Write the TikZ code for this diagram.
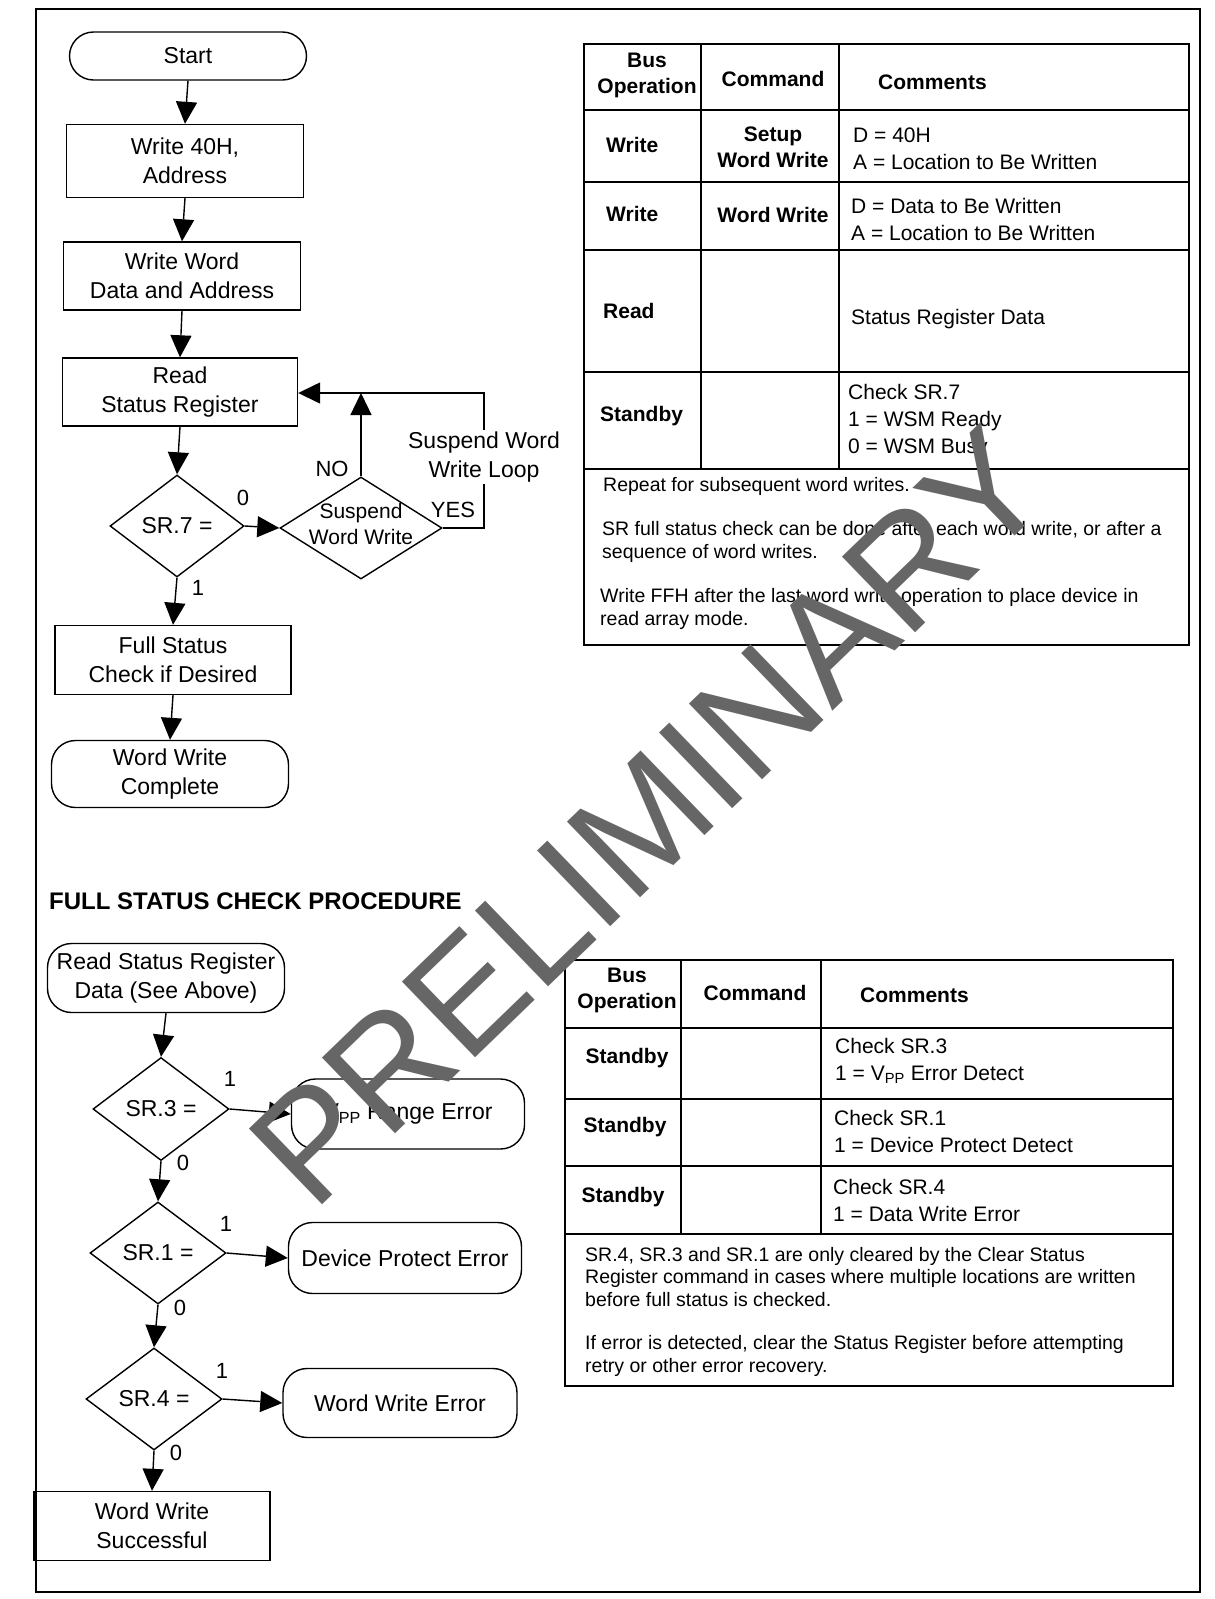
\documentclass[tikz,border=0pt]{standalone}
\usepackage{fontspec}
\setmainfont{Liberation Sans}
\usetikzlibrary{shapes.geometric,arrows.meta}
\newcommand\flowfont{\fontsize{23}{28.5}\selectfont}
\newcommand\susfont{\fontsize{21}{26}\selectfont}
\newcommand\tabfont{\fontsize{21}{27}\selectfont}
\newcommand\tabbfont{\fontsize{21}{26}\selectfont\bfseries}
\newcommand\notefont{\fontsize{19.5}{22.5}\selectfont}
\newcommand\lblfont{\fontsize{22}{26}\selectfont}
\tikzset{
  proc/.style={draw, line width=1.4pt, align=center, font=\flowfont, inner sep=0pt},
  term/.style={proc, rounded corners=24pt},
  dia/.style={draw, diamond, line width=1.4pt, font=\flowfont, inner sep=0pt},
  arr/.style={-{Triangle[length=22pt,width=21pt]}, line width=1.4pt},
  lbl/.style={font=\lblfont, inner sep=0pt},
  tabb/.style={font=\tabbfont, align=center, inner sep=0pt},
  tabn/.style={font=\tabfont, align=left, inner sep=0pt, anchor=west},
  note/.style={font=\notefont, align=left, inner sep=0pt, anchor=west},
  tline/.style={line width=1.5pt},
}
\begin{document}
\begin{tikzpicture}[x=1pt,y=-1pt]
\useasboundingbox (0,0) rectangle (1215,1599);
\fill[white] (0,0) rectangle (1215,1599);
% outer frame
\draw[line width=1.8pt] (36,9) rectangle (1200,1592);

% ---------- top flowchart ----------
\node[term, minimum width=237pt, minimum height=48pt] (start) at (188,56) {Start};
\node[proc, minimum width=237pt, minimum height=73pt] (w40) at (185,161) {Write 40H,\\Address};
\node[proc, minimum width=237pt, minimum height=68pt] (ww) at (182,276) {Write Word\\Data and Address};
\node[proc, minimum width=235pt, minimum height=68pt] (rsr) at (180,392) {Read\\Status Register};
\node[dia, minimum width=134pt, minimum height=102pt] (sr7) at (177,526) {SR.7 =};
\node[dia, minimum width=162pt, minimum height=102pt,
  label={[font=\susfont, align=center, inner sep=0pt, yshift=4pt]center:{Suspend\\Word Write}}] (sus) at (361,528) {};
\node[proc, minimum width=236pt, minimum height=69pt] (full) at (173,660) {Full Status\\Check if Desired};
\node[term, minimum width=237pt, minimum height=67pt] (done) at (170,774) {Word Write\\Complete};

\coordinate (lpR) at (484,393);
\draw[arr] (start.south) -- (w40.north);
\draw[arr] (w40.south) -- (ww.north);
\draw[arr] (ww.south) -- (rsr.north);
\draw[arr] (rsr.south) -- (sr7.north);
\draw[arr] (sr7.east) -- (sus.west);
\draw[arr] (sr7.south) -- (full.north);
\draw[arr] (full.south) -- (done.north);
\draw[arr] (sus.east) -| (lpR) -- (rsr.east |- lpR);
\draw[arr] (sus.north) -- (sus.north |- lpR);
\node[font=\flowfont, align=center, fill=white, inner sep=2pt] (loopt) at (484,457) {Suspend Word\\Write Loop};

\node[lbl] (l0) at (243,498) {0};
\node[lbl] (lno) at (332,469) {NO};
\node[lbl] (lyes) at (453,510) {YES};
\node[lbl] (l1) at (198,588) {1};

% ---------- top table ----------
\draw[tline] (584,44) rectangle (1189,645);
\foreach \yy in {110,182,250,372,469} \draw[tline] (584,\yy) -- (1189,\yy);
\draw[tline] (701,44) -- (701,469);
\draw[tline] (839,44) -- (839,469);
\node[tabb] (h1) at (647,75) {Bus\\Operation};
\node[tabb] (h2) at (773,79) {Command};
\node[tabb, anchor=west] (h3) at (878,82) {Comments};
\node[tabb, anchor=west] (r1a) at (606,145) {Write};
\node[tabb] (r1b) at (773,147) {Setup\\Word Write};
\node[tabn] (r1c) at (853,149) {D = 40H\\A = Location to Be Written};
\node[tabb, anchor=west] (r2a) at (606,214) {Write};
\node[tabb] (r2b) at (773,215) {Word Write};
\node[tabn] (r2c) at (851,219) {D = Data to Be Written\\A = Location to Be Written};
\node[tabb, anchor=west] (r3a) at (603,311) {Read};
\node[tabn] (r3c) at (851,319) {Status Register Data};
\node[tabb, anchor=west] (r4a) at (600,416) {Standby};
\node[tabn] (r4c) at (848,421) {Check SR.7\\1 = WSM Ready\\0 = WSM Busy};
\node[note] (n1) at (603,486) {Repeat for subsequent word writes.};
\node[note] (n2) at (602,542) {SR full status check can be done after each word write, or after a\\sequence of word writes.};
\node[note] (n3) at (600,609) {Write FFH after the last word write operation to place device in\\read array mode.};

% ---------- bottom flowchart ----------
\node[font=\fontsize{24}{28}\selectfont\bfseries, anchor=west, inner sep=0pt] (title) at (49,901) {FULL STATUS CHECK PROCEDURE};
\node[term, minimum width=237pt, minimum height=69pt] (rsd) at (166,978) {Read Status Register\\Data (See Above)};
\node[dia, minimum width=136pt, minimum height=103pt] (sr3) at (161,1109) {SR.3 =};
\node[term, minimum width=233pt, minimum height=70pt] (vpp) at (408,1114) {V\textsubscript{PP} Range Error};
\node[dia, minimum width=136pt, minimum height=102pt] (sr1) at (158,1253) {SR.1 =};
\node[term, minimum width=233pt, minimum height=71pt] (dpe) at (405,1258) {Device Protect Error};
\node[dia, minimum width=136pt, minimum height=102pt] (sr4) at (154,1399) {SR.4 =};
\node[term, minimum width=234pt, minimum height=69pt] (wwe) at (400,1403) {Word Write Error};
\node[proc, minimum width=236pt, minimum height=69pt] (wws) at (152,1526) {Word Write\\Successful};

\draw[arr] (rsd.south) -- (sr3.north);
\draw[arr] (sr3.east) -- (vpp.west);
\draw[arr] (sr3.south) -- (sr1.north);
\draw[arr] (sr1.east) -- (dpe.west);
\draw[arr] (sr1.south) -- (sr4.north);
\draw[arr] (sr4.east) -- (wwe.west);
\draw[arr] (sr4.south) -- (wws.north);

\node[lbl] (a1) at (230,1079) {1};
\node[lbl] (a0) at (183,1163) {0};
\node[lbl] (b1) at (226,1224) {1};
\node[lbl] (b0) at (180,1308) {0};
\node[lbl] (c1) at (222,1371) {1};
\node[lbl] (c0) at (176,1453) {0};

% ---------- bottom table ----------
\draw[tline] (565,960) rectangle (1173,1386);
\foreach \yy in {1028,1099,1166,1234} \draw[tline] (565,\yy) -- (1173,\yy);
\draw[tline] (681,960) -- (681,1234);
\draw[tline] (821,960) -- (821,1234);
\node[tabb] (bh1) at (627,990) {Bus\\Operation};
\node[tabb] (bh2) at (755,993) {Command};
\node[tabb, anchor=west] (bh3) at (860,995) {Comments};
\node[tabb] (b1a) at (627,1058) {Standby};
\node[tabn] (b1c) at (835,1061) {Check SR.3\\1 = V\textsubscript{PP} Error Detect};
\node[tabb] (b2a) at (625,1127) {Standby};
\node[tabn] (b2c) at (834,1131) {Check SR.1\\1 = Device Protect Detect};
\node[tabb] (b3a) at (623,1197) {Standby};
\node[tabn] (b3c) at (833,1200) {Check SR.4\\1 = Data Write Error};
\node[note] (bn1) at (585,1277) {SR.4, SR.3 and SR.1 are only cleared by the Clear Status\\Register command in cases where multiple locations are written\\before full status is checked.};
\node[note] (bn2) at (585,1356) {If error is detected, clear the Status Register before attempting\\retry or other error recovery.};

% ---------- watermark ----------
\node[font=\fontsize{153}{153}\selectfont, text=black!60, rotate=44, anchor=base west, inner sep=0pt] (wm) at (313,1214) {PRELIMINARY};
\end{tikzpicture}
\end{document}
